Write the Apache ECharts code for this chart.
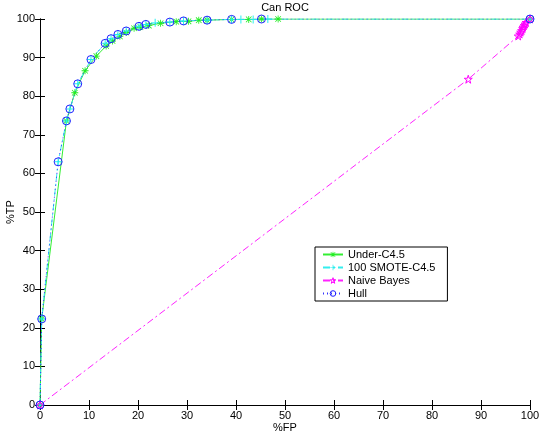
<!DOCTYPE html>
<html>
<head>
<meta charset="utf-8">
<script src="https://cdn.jsdelivr.net/npm/echarts@6/dist/echarts.min.js"></script>
<style>
  html, body { margin: 0; padding: 0; background: #fff; }
  #main { width: 541px; height: 433px; }
</style>
</head>
<body>
<div id="main"></div>
<script>
// values, [%FP, %TP]
var underC45 = [
  [0, 0], [0.35, 22.3], [5.4, 73.6], [7.1, 80.9], [9.2, 86.6], [11.5, 90.4],
  [13.5, 93.0], [14.8, 94.3], [16.3, 95.5], [17.6, 96.5], [19.2, 97.6],
  [20.5, 97.9], [22.2, 98.3], [24.6, 98.9], [27.8, 99.3], [30.3, 99.4],
  [32.4, 99.7], [34.1, 99.7], [39.1, 99.9], [42.6, 99.9], [45.2, 100],
  [48.6, 100], [100, 100]
];
var smoteC45 = [
  [0, 0], [0.35, 22.3], [3.7, 63.0], [5.4, 73.6], [6.1, 76.7], [7.7, 83.2],
  [10.4, 89.5], [13.3, 93.7], [14.5, 94.9], [15.9, 96.0], [17.6, 96.9],
  [20.2, 98.1], [21.6, 98.6], [23.5, 99.0], [26.5, 99.2], [29.3, 99.5],
  [34.1, 99.7], [39.1, 99.9], [41.0, 99.9], [43.5, 99.9], [46.5, 100],
  [100, 100]
];
var naiveBayes = [
  [0, 0], [87.4, 84.4], [97.6, 95.6], [97.9, 96.1], [98.1, 96.6], [98.3, 97.0],
  [98.5, 97.5], [98.6, 97.9], [98.8, 98.3], [99.0, 98.7], [99.2, 99.1],
  [100, 100]
];
var hull = [
  [0, 0], [0.35, 22.3], [3.7, 63.0], [5.4, 73.6], [6.1, 76.7], [7.7, 83.2],
  [10.4, 89.5], [13.3, 93.7], [14.5, 94.9], [15.9, 96.0], [17.6, 96.9],
  [20.2, 98.1], [21.6, 98.6], [26.5, 99.2], [29.3, 99.5], [34.1, 99.7],
  [39.1, 99.9], [45.2, 100], [100, 100]
];
var seriesNames = ['Under-C4.5', '100 SMOTE-C4.5', 'Naive Bayes', 'Hull'];

// marker shapes (matlab style)
var asterisk = 'path://M0 4.4H10V5.6H0Z M4.4 0H5.6V10H4.4Z M0.6 1.4L1.4 0.6L9.4 8.6L8.6 9.4Z M8.6 0.6L9.4 1.4L1.4 9.4L0.6 8.6Z';
var plus = 'path://M0 4.4H10V5.6H0Z M4.4 0H5.6V10H4.4Z';
var star = 'path://M50 0L61.2 34.5L97.55 34.55L68.2 55.9L79.39 90.45L50 69.1L20.61 90.45L31.8 55.9L2.45 34.55L38.8 34.5Z';

var font = 'Liberation Sans';
var black = '#000';
var clear = 'rgba(0,0,0,0)';

function valAxis(pos, showLabel) {
  return {
    type: 'value', position: pos, min: 0, max: 100, interval: 10,
    axisLine: { show: true, lineStyle: { color: black, width: 1 } },
    axisTick: { show: true, inside: true, length: 5, lineStyle: { color: black } },
    axisLabel: { show: showLabel, color: black, fontFamily: font, fontSize: 11, margin: 5 },
    splitLine: { show: false }
  };
}

var chart = echarts.init(document.getElementById('main'));

var xBottom = valAxis('bottom', true);
xBottom.name = '%FP';
xBottom.nameLocation = 'middle';
xBottom.nameGap = 17;
xBottom.nameMoveOverlap = false;
xBottom.nameTextStyle = { color: black, fontFamily: font, fontSize: 11 };
var yLeft = valAxis('left', true);
yLeft.name = '%TP';
yLeft.nameLocation = 'middle';
yLeft.nameGap = 24;
yLeft.nameMoveOverlap = false;
yLeft.nameTextStyle = { color: black, fontFamily: font, fontSize: 11 };

chart.setOption({
  animation: false,
  backgroundColor: '#fff',
  title: {
    text: 'Can ROC', left: 285, top: 2, textAlign: 'center', padding: 0,
    textStyle: { color: black, fontFamily: font, fontSize: 11, fontWeight: 'normal' }
  },
  grid: { left: 40, right: 11, top: 19, bottom: 28, containLabel: false, outerBoundsMode: 'none' },
  xAxis: [xBottom, valAxis('top', false)],
  yAxis: [yLeft, valAxis('right', false)],
  legend: {
    orient: 'vertical', left: 315, top: 247,
    data: [
      { name: seriesNames[0] },
      { name: seriesNames[1] },
      { name: seriesNames[2], itemStyle: { color: clear, borderColor: '#ff00ff', borderWidth: 1 } },
      { name: seriesNames[3], itemStyle: { color: clear, borderColor: '#2222ff', borderWidth: 1 } }
    ],
    backgroundColor: '#fff', borderColor: black, borderWidth: 1,
    padding: [1, 12, 1, 7],
    itemWidth: 20, itemHeight: 7, itemGap: 0,
    textStyle: { color: black, fontFamily: font, fontSize: 11, lineHeight: 13 }
  },
  series: [
    {
      name: seriesNames[0], type: 'line', data: underC45,
      symbol: asterisk, symbolSize: 7,
      itemStyle: { color: '#22ee22' },
      lineStyle: { color: '#33ee33', width: 1 }
    },
    {
      name: seriesNames[1], type: 'line', data: smoteC45,
      symbol: plus, symbolSize: 8,
      itemStyle: { color: '#22eeee' },
      lineStyle: { color: '#33eeee', width: 1, type: [7, 3, 2, 3] }
    },
    {
      name: seriesNames[2], type: 'line', data: naiveBayes,
      symbol: star, symbolSize: 8,
      itemStyle: { color: clear, borderColor: '#ff00ff', borderWidth: 1 },
      lineStyle: { color: '#ff22ff', width: 1, type: [7, 3, 2, 3] }
    },
    {
      name: seriesNames[3], type: 'line', data: hull,
      symbol: 'circle', symbolSize: 8,
      itemStyle: { color: clear, borderColor: '#2222ff', borderWidth: 1 },
      lineStyle: { color: '#3333ff', width: 1, type: [1, 3] }
    }
  ]
});
</script>
</body>
</html>
